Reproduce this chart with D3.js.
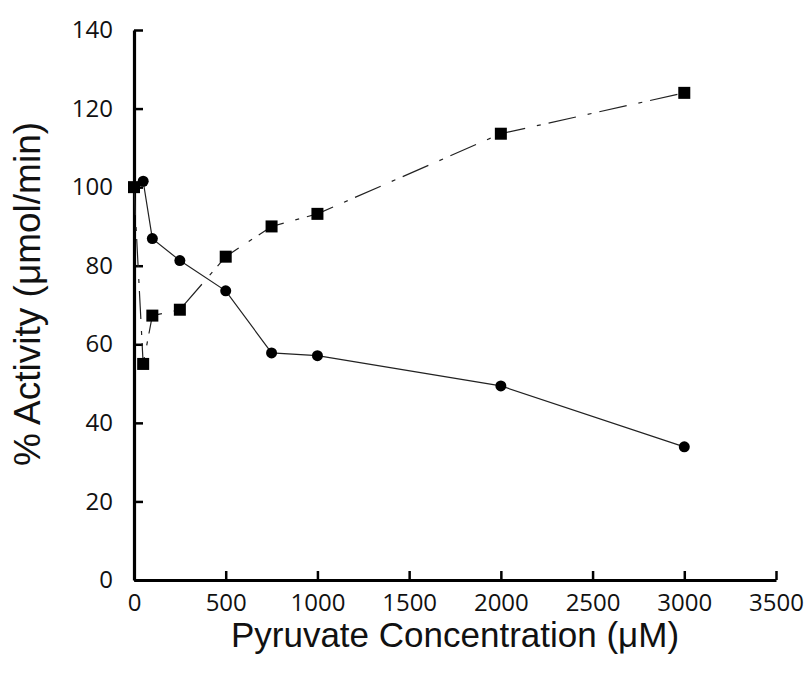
<!DOCTYPE html>
<html>
<head>
<meta charset="utf-8">
<script src="https://cdn.jsdelivr.net/npm/d3@7"></script>
<style>
  body { margin: 0; background: #fff; }
  .tick text { font-family: "Open Sans", sans-serif; font-size: 24px; fill: #111; }
  .lbl { font-family: "Liberation Sans", Arial, sans-serif; font-size: 35px; fill: #111; }
</style>
</head>
<body>
<div id="chart"></div>
<script>
// pyruvate concentration (uM)
var conc = [0, 50, 100, 250, 500, 750, 1000, 2000, 3000];
// dashed series, square markers
var squareVals = [100, 55, 67.3, 68.8, 82.3, 90, 93.2, 113.6, 124];
// solid series, circle markers
var circleVals = [100, 101.5, 86.9, 81.3, 73.6, 57.8, 57.1, 49.4, 33.9];
var xTicks = [0, 500, 1000, 1500, 2000, 2500, 3000, 3500];
var yTicks = [0, 20, 40, 60, 80, 100, 120, 140];

var width = 810, height = 681;
var svg = d3.select("#chart").append("svg").attr("width", width).attr("height", height);

var x = d3.scaleLinear().domain([0, 3500]).range([134, 776]);
var y = d3.scaleLinear().domain([0, 140]).range([580, 30]);

var xAxis = d3.axisBottom(x).tickValues(xTicks).tickFormat(d3.format("d"))
	.tickSizeInner(-9).tickSizeOuter(0).tickPadding(14);
var yAxis = d3.axisLeft(y).tickValues(yTicks).tickFormat(d3.format("d"))
	.tickSizeInner(-9).tickSizeOuter(0).tickPadding(21);

var gx = svg.append("g").attr("transform", "translate(0,580)").call(xAxis);
var gy = svg.append("g").attr("transform", "translate(134,0)").call(yAxis);
[gx, gy].forEach(function(g){
	g.select(".domain").attr("stroke", "#000").attr("stroke-width", 3.2);
	g.selectAll(".tick line").attr("stroke", "#000").attr("stroke-width", 2.5);
});

var line = d3.line().x(function(d){ return x(d[0]); }).y(function(d){ return y(d[1]); });
var sq = conc.map(function(c, i){ return [c, squareVals[i]]; });
var ci = conc.map(function(c, i){ return [c, circleVals[i]]; });

svg.append("path").datum(ci).attr("d", line)
	.attr("fill", "none").attr("stroke", "#222").attr("stroke-width", 1.2);
svg.append("path").datum(sq).attr("d", line)
	.attr("fill", "none").attr("stroke", "#222").attr("stroke-width", 1.2)
	.attr("stroke-dasharray", "28,12,4,8");

svg.selectAll("circle.pt").data(ci).enter().append("circle").attr("class", "pt")
	.attr("cx", function(d){ return x(d[0]); })
	.attr("cy", function(d){ return y(d[1]); })
	.attr("r", 5.5).attr("fill", "#000");

svg.selectAll("rect.pt").data(sq).enter().append("rect").attr("class", "pt")
	.attr("x", function(d){ return x(d[0]) - 6; })
	.attr("y", function(d){ return y(d[1]) - 6; })
	.attr("width", 12).attr("height", 12).attr("fill", "#000");

svg.append("text").attr("class", "lbl").attr("text-anchor", "middle")
	.attr("x", 455).attr("y", 647).text("Pyruvate Concentration (μM)");
svg.append("text").attr("class", "lbl").attr("text-anchor", "middle")
	.style("font-size", "37px")
	.attr("transform", "translate(40,294) rotate(-90)").text("% Activity (μmol/min)");
</script>
</body>
</html>
